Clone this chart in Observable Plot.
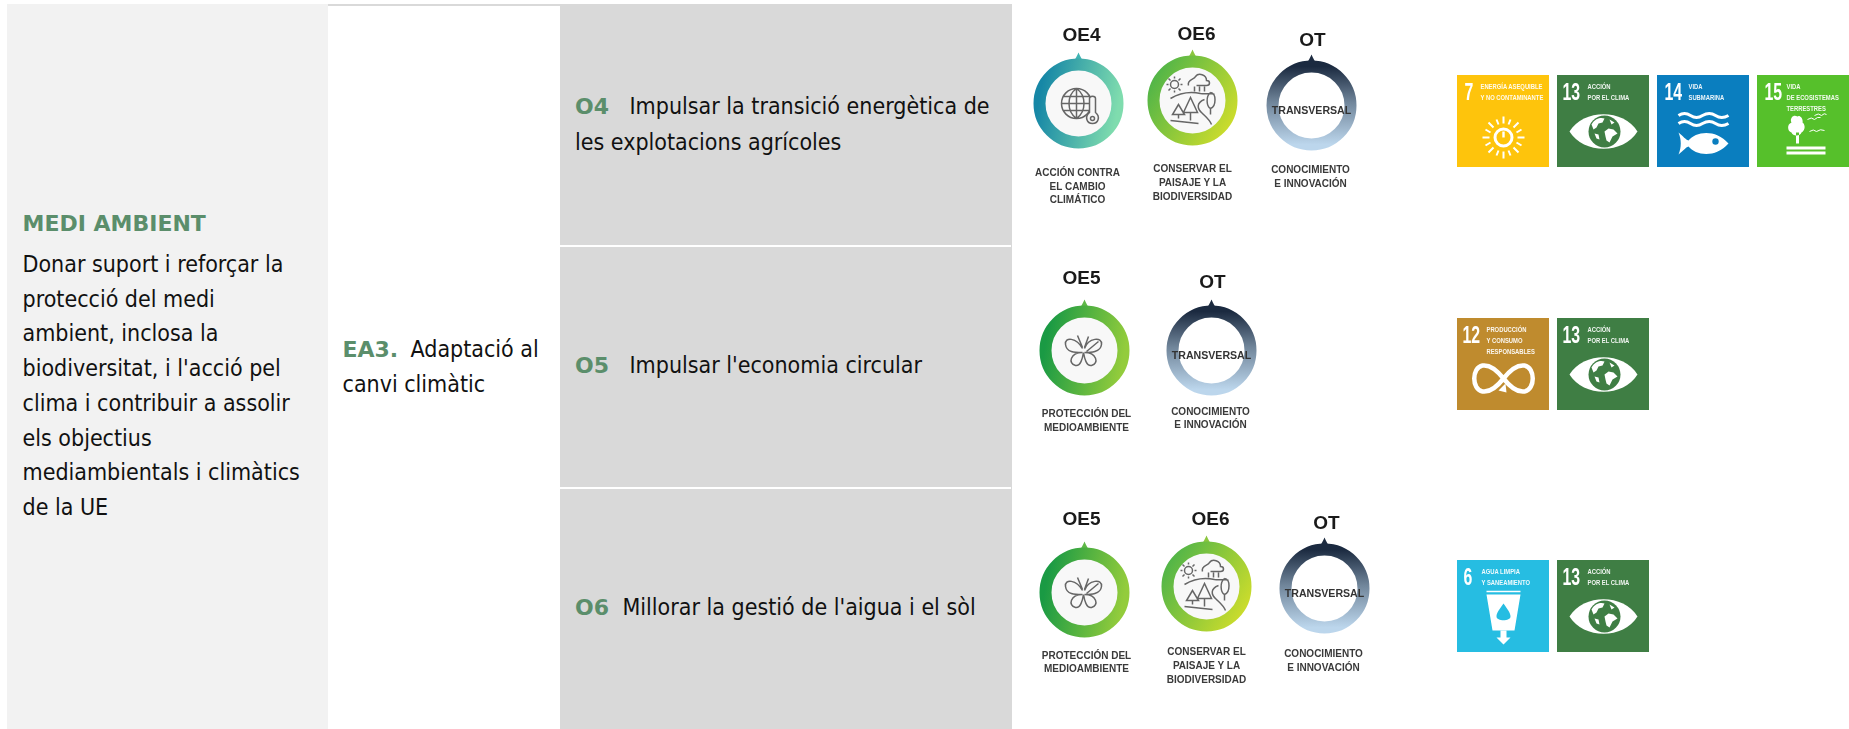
<!DOCTYPE html>
<html lang="ca"><head><meta charset="utf-8">
<style>
html,body{margin:0;padding:0;background:#fff}
svg{display:block}
.soft{filter:blur(.45px)}
.softer{filter:blur(.3px)}
</style>
<script src="https://cdn.jsdelivr.net/npm/d3@7"></script>
<script src="https://cdn.jsdelivr.net/npm/@observablehq/plot@0.6"></script>
</head><body><div id="chart"></div>
<script>
// ---------- content ----------
const sectionTitle = "MEDI AMBIENT";
const sectionLines = ["Donar suport i reforçar la","protecció del medi","ambient, inclosa la","biodiversitat, i l'acció pel","clima i contribuir a assolir","els objectius","mediambientals i climàtics","de la UE"];
const axisCode = "EA3.";
const axisLines = ["Adaptació al","canvi climàtic"];
const objectiveCodes = ["O4","O5","O6"];
const objectiveLines = [["Impulsar la transició energètica de","les explotacions agrícoles"],["Impulsar l'economia circular"],["Millorar la gestió de l'aigua i el sòl"]];
const badgeNames = {
  OE4:["ACCIÓN CONTRA","EL CAMBIO","CLIMÁTICO"],
  OE5:["PROTECCIÓN DEL","MEDIOAMBIENTE"],
  OE6:["CONSERVAR EL","PAISAJE Y LA","BIODIVERSIDAD"],
  OT:["CONOCIMIENTO","E INNOVACIÓN"]
};
const sdgNames = {
  6:["AGUA LIMPIA","Y SANEAMIENTO"],
  7:["ENERGÍA ASEQUIBLE","Y NO CONTAMINANTE"],
  12:["PRODUCCIÓN","Y CONSUMO","RESPONSABLES"],
  13:["ACCIÓN","POR EL CLIMA"],
  14:["VIDA","SUBMARINA"],
  15:["VIDA","DE ECOSISTEMAS","TERRESTRES"]
};
const sdgColors = {6:"#26bde2",7:"#fec40c",12:"#bf8b2e",13:"#3f7e44",14:"#0a7ebf",15:"#56c02b"};
const ringStroke = {OE4:"url(#gOE4)",OE5:"url(#gOE5)",OE6:"url(#gOE6)",OT:"url(#gOT)"};
const ringTip = {OE4:"#3fb4b4",OE5:"#5fb848",OE6:"#8cc63f",OT:"#1d2b40"};
const ringFill = {OE4:"#f8f8f8",OE5:"#f8f8f8",OE6:"#f8f8f8",OT:"#ffffff"};

// ---------- table layout (scale units = pixels of the page) ----------
const cells = [
  {x1:7,x2:328,y1:4,y2:729,c:"#f2f2f2"},
  {x1:328,x2:560,y1:4,y2:6,c:"#d9d9d9"},
  {x1:560,x2:1011,y1:4,y2:245,c:"#d9d9d9"},
  {x1:560,x2:1011,y1:247,y2:487,c:"#d9d9d9"},
  {x1:560,x2:1011,y1:489,y2:729,c:"#d9d9d9"}
];
const objectiveRows = [{code:106,line:[106,142],x:629},{code:365,line:[365],x:629},{code:607,line:[607],x:622}];
const badges = [
  {k:"OE4",cx:1078,cy:103,lx:1081,ly:34,nx:1077,ny:[172,186,199]},
  {k:"OE6",cx:1192,cy:100,lx:1196,ly:33,nx:1192,ny:[168,182,196]},
  {k:"OT",cx:1311,cy:105,lx:1312,ly:39,nx:1310,ny:[169,183]},
  {k:"OE5",cx:1084,cy:350,lx:1081,ly:277,nx:1086,ny:[413,427]},
  {k:"OT",cx:1211,cy:350,lx:1212,ly:281,nx:1210,ny:[411,424]},
  {k:"OE5",cx:1084,cy:592,lx:1081,ly:518,nx:1086,ny:[655,668]},
  {k:"OE6",cx:1206,cy:586,lx:1210,ly:518,nx:1206,ny:[651,665,679]},
  {k:"OT",cx:1324,cy:588,lx:1326,ly:522,nx:1323,ny:[653,667]}
];
const squares = [
  {n:7,x:1457,y:75},{n:13,x:1557,y:75},{n:14,x:1657,y:75},{n:15,x:1757,y:75},
  {n:12,x:1457,y:318},{n:13,x:1557,y:318},
  {n:6,x:1457,y:560},{n:13,x:1557,y:560}
];
const sdgTextInset = {6:24,7:23,12:29,13:30,14:31,15:29};
const sdgNumberInset = {6:6,7:7,12:5,13:5,14:7,15:7};

// ---------- pictogram symbols: path strings are drawn through Plot's dot mark ----------
function shape(d, base = 33) {
  const t = d.trim().split(/\s+/);
  return {draw(c, size) {
    const k = Math.sqrt(size / Math.PI) / base;
    let i = 0; const n = () => +t[i++] * k;
    while (i < t.length) {
      const o = t[i++];
      if (o === "M") c.moveTo(n(), n());
      else if (o === "L") c.lineTo(n(), n());
      else if (o === "C") c.bezierCurveTo(n(), n(), n(), n(), n(), n());
      else if (o === "Q") c.quadraticCurveTo(n(), n(), n(), n());
      else if (o === "Z") c.closePath();
      else if (o === "O") { const x = n(), y = n(), r = n(); c.moveTo(x + r, y); c.arc(x, y, r, 0, 2 * Math.PI); }
    }
  }};
}
const iconPaths = {
  globe:"O -2 0 15 M -17 0 L 13 0 M -15 -7 L 11 -7 M -15 7 L 11 7 M -2 -15 C -12 -8 -12 8 -2 15 M -2 -15 C 8 -8 8 8 -2 15 M -2 -15 L -2 15",
  thermo:"M 11 -5 C 11 -8 17 -8 17 -5 L 17 9 C 22 13 20 20 14 20 C 8 20 6 13 11 9 Z O 14 15 2",
  butterfly:"M -2 -2 C -8 -13 -20 -14 -19 -6 C -18 2 -10 2 -2 2 M -2 2 C -14 2 -17 13 -9 15 C -4 16 -2 8 -1 2 M 0 -2 C 4 -13 18 -14 17 -6 C 16 2 6 2 0 2 M 0 2 C 12 2 15 13 7 15 C 2 16 0 8 -1 2 M -2 -3 L -7 -15 M 0 -3 L 4 -14 M 2 1 L 14 -9",
  landscape:"O -18 -16 4 M -18 -24 L -18 -22 M -18 -10 L -18 -8 M -26 -16 L -24 -16 M -12 -16 L -10 -16 M -24 -22 L -22 -20 M -14 -12 L -12 -10 M -24 -10 L -22 -12 M -14 -20 L -12 -22 M -4 -15 C -6 -21 2 -21 3 -24 C 6 -28 14 -26 14 -20 C 18 -20 18 -15 14 -15 L 4 -15 M 2 -14 L 2 -9 M 7 -14 L 7 -9 M 12 -14 L 12 -9 M -22 -2 C -12 -8 -2 -9 8 -7 C 14 -6 18 -8 22 -6 M 18 -8 C 24 -8 24 6 18 8 C 14 6 13 -4 18 -8 M 18 8 L 18 14 M 12 -1 C 4 2 4 8 10 13 C 13 16 17 19 19 24 M -14 4 L -20 14 L -8 14 Z M -14 14 L -14 18 M -2 -3 L -9 12 L 5 12 Z M -2 12 L -2 20 M -22 20 L 6 23"
};
const sdgPaths = {
  eyeWhite:"M -34 0 C -20 -23 20 -23 34 0 C 20 23 -20 23 -34 0 Z",
  land:"M -13 -7 C -9 -14 -3 -14 0 -13 L -2 -9 L -6 -8 L -8 -4 L -11 -2 Z M 0 0 L 4 -3 L 9 -2 L 13 2 L 8 5 L 5 11 L 2 9 L 1 5 Z M 5 -12 L 10 -9 L 7 -7 Z M -10 2 L -6 3 L -5 8 L -8 7 Z",
  sunRays:"M 0 -21 L 0 -14 M 0 14 L 0 21 M -21 0 L -14 0 M 14 0 L 21 0 M -15 -15 L -10 -10 M 10 10 L 15 15 M -15 15 L -10 10 M 10 -10 L 15 -15 M -18 -8 L -13 -5 M 13 5 L 18 8 M -18 8 L -13 5 M 13 -5 L 18 -8 M -7 -18 L -5 -13 M 5 13 L 7 18 M 7 -18 L 5 -13 M -5 13 L -7 18",
  sunRing:"O 0 0 8.5",
  power:"M 0 -6 L 0 0",
  waves:"M -25 0 Q -19 -4 -13 0 Q -7 4 -1 0 Q 6 -4 12 0 Q 18 4 25 0 M -25 8 Q -19 4 -13 8 Q -7 12 -1 8 Q 6 4 12 8 Q 18 12 25 8",
  fish:"M -25 -11 C -20 -7 -18 -4 -15 -3 C -8 -12 12 -15 25 0 C 12 15 -8 12 -15 3 C -18 4 -20 7 -25 11 C -22 4 -22 -4 -25 -11 Z",
  fishEye:"O 12 -2 3.2",
  tree:"M -9 -14 C -14 -17 -17 -11 -15 -8 C -20 -6 -19 1 -15 2 C -14 6 -6 6 -5 2 C -1 0 -1 -6 -4 -8 C -3 -12 -7 -16 -9 -14 Z M -10.5 2 L -7.5 2 L -7.5 13 L -10.5 13 Z M -20 16 L 19 16 L 19 19 L -20 19 Z M -20 21 L 19 21 L 19 24 L -20 24 Z",
  birds:"M 1 -11 Q 5 -14 8 -11 Q 11 -14 14 -13 M 8 -15 Q 12 -18 15 -15 Q 18 -18 20 -16 M 3 1 Q 7 -2 10 1 Q 14 -2 18 0",
  infinity:"M 0 0 C -7 -9 -14 -14 -21 -13 C -32 -11 -32 11 -21 13 C -14 14 -7 9 0 0 C 7 -9 14 -14 21 -13 C 32 -11 32 11 21 13 C 14 14 7 9 0 0",
  arrowHead:"M -5 12 L 3 14 L 2 5 Z",
  glass:"M -17 -3 L 17 -3 L 11 33 L -11 33 Z",
  rim:"M -17 -6 L 17 -6",
  arrow:"M -3 33 L 3 33 L 3 40 L 7 40 L 0 47 L -7 40 L -3 40 Z",
  drop:"M 0 6 C 4 12 7 15 7 19 C 7 24 -7 24 -7 19 C -7 15 -4 12 0 6 Z"
};
const tip = shape("M -13 9 C -6 7 -3 2 0 -5 C 3 2 6 7 13 9 Z", 33);

// helpers
const txt = (rows, o) => Plot.text(rows, {x:"x", y:"y", text:"t", ...o});
const MAIN = "'DejaVu Sans Condensed','DejaVu Sans',sans-serif";
const VERD = "'DejaVu Sans',sans-serif";
const ARIAL = "'Liberation Sans',Arial,sans-serif";

const defs = () => {
  const grad = (id,x1,y1,x2,y2,a,b) => `<linearGradient id="${id}" x1="${x1}" y1="${y1}" x2="${x2}" y2="${y2}"><stop offset="0" stop-color="${a}"/><stop offset="1" stop-color="${b}"/></linearGradient>`;
  return d3.create("svg:defs").html(
    grad("gOE4",0,.4,1,.6,"#1687a6","#7fdcae") +
    grad("gOE5",0,.4,1,.6,"#1a9a44","#93cc3c") +
    grad("gOE6",0,.2,1,.8,"#52b548","#cbdc2c") +
    `<linearGradient id="gOT" x1="0" y1="0" x2="0" y2="1"><stop offset="0" stop-color="#1b2a40"/><stop offset=".45" stop-color="#6f8499"/><stop offset="1" stop-color="#bcd6ec"/></linearGradient>`
  ).node();
};

const marks = [defs];
// cells
marks.push(Plot.rect(cells,{x1:"x1",x2:"x2",y1:"y1",y2:"y2",fill:"c"}));
marks.push(Plot.ruleX([1011],{y1:4,y2:729,stroke:"#d9d9d9",strokeWidth:1}));

const GREEN = {textAnchor:"start",fontFamily:VERD,fontWeight:700,fontSize:22,fill:"#5b8e6b"};
const BODY = {textAnchor:"start",fontFamily:MAIN,fontSize:23,fill:"#111"};
// left column
marks.push(txt([{x:22,y:223,t:sectionTitle}],GREEN));
const sectionY = [264,299,333.5,368,403,438,472.5,507];
marks.push(txt(sectionLines.map((t,i)=>({x:22,y:sectionY[i],t})),BODY));
// axis
marks.push(txt([{x:342,y:349,t:axisCode}],GREEN));
marks.push(txt([{x:410,y:349,t:axisLines[0]},{x:342,y:384,t:axisLines[1]}],BODY));
// objectives
objectiveRows.forEach((r,i)=>{
  marks.push(txt([{x:574.5,y:r.code,t:objectiveCodes[i]}],GREEN));
  marks.push(txt(objectiveLines[i].map((t,j)=>({x:j?574.5:r.x,y:r.line[j],t})),BODY));
});

// badges
const dotAt = (b, sym, o) => Plot.dot([b],{x:b.cx,y:b.cy,symbol:sym,className:"soft",...o});
badges.forEach(b=>{
  marks.push(Plot.dot([b],{x:"cx",y:d=>d.cy-46,r:33,symbol:tip,fill:ringTip[b.k],className:"soft"}));
  marks.push(Plot.dot([b],{x:"cx",y:"cy",r:39,fill:ringFill[b.k],stroke:ringStroke[b.k],strokeWidth:12,className:"soft"}));
  const line = {r:33,fill:"none",stroke:"#666",strokeWidth:1.5};
  if(b.k==="OE4"){marks.push(dotAt(b,shape(iconPaths.globe),line),dotAt(b,shape(iconPaths.thermo),{...line,fill:"#f6f6f6"}));}
  if(b.k==="OE5"){marks.push(dotAt(b,shape(iconPaths.butterfly),line));}
  if(b.k==="OE6"){marks.push(dotAt(b,shape(iconPaths.landscape),line));}
  if(b.k==="OT"){marks.push(txt([{x:b.cx,y:b.cy+5,t:"TRANSVERSAL"}],{fontFamily:ARIAL,fontWeight:700,fontSize:10.6,fill:"#333",className:"softer"}));}
  marks.push(txt([{x:b.lx,y:b.ly,t:b.k}],{fontFamily:ARIAL,fontWeight:700,fontSize:19,fill:"#1a1a1a",className:"softer"}));
  marks.push(txt(badgeNames[b.k].map((t,i)=>({x:b.nx,y:b.ny[i],t})),{fontFamily:ARIAL,fontWeight:700,fontSize:10,fill:"#3a3a3a",className:"softer"}));
});

// SDG squares
squares.forEach(s=>{
  marks.push(Plot.rect([s],{x1:"x",x2:d=>d.x+92,y1:"y",y2:d=>d.y+92,fill:sdgColors[s.n]}));
  marks.push(txt([{x:s.x+sdgNumberInset[s.n],y:s.y+17,t:String(s.n)}],{textAnchor:"start",fontFamily:ARIAL,fontWeight:700,fontSize:24,fill:"#fff",className:"softer narrowNum"}));
  marks.push(txt(sdgNames[s.n].map((t,i)=>({x:s.x+sdgTextInset[s.n],y:s.y+11+i*11,t})),{textAnchor:"start",fontFamily:ARIAL,fontWeight:700,fontSize:6.8,fill:"#fff",fillOpacity:.92,className:"soft narrowLbl"}));
  const cx = s.x+46, W="#fff", C=sdgColors[s.n];
  const pic = (key,dx,dy,o) => marks.push(Plot.dot([s],{x:cx+dx,y:s.y+dy,r:33,symbol:shape(sdgPaths[key]),className:"softer",...o}));
  if(s.n===13){
    pic("eyeWhite",0,56,{fill:W});
    marks.push(Plot.dot([s],{x:cx+1,y:s.y+56,r:16,fill:C,className:"softer"}));
    pic("land",1,56,{fill:W});
  }
  if(s.n===7){
    pic("sunRays",0,62,{fill:"none",stroke:W,strokeWidth:2});
    pic("sunRing",0,62,{fill:"none",stroke:W,strokeWidth:3});
    pic("power",0,62,{fill:"none",stroke:W,strokeWidth:2.4});
  }
  if(s.n===14){
    pic("waves",0,40,{fill:"none",stroke:W,strokeWidth:3});
    pic("fish",0,68,{fill:W});
    pic("fishEye",0,68,{fill:C});
  }
  if(s.n===15){
    pic("tree",3,55,{fill:W});
    pic("birds",3,55,{fill:"none",stroke:W,strokeWidth:1});
  }
  if(s.n===12){
    pic("infinity",0,60,{fill:"none",stroke:W,strokeWidth:4.5});
    pic("arrowHead",0,60,{fill:W});
  }
  if(s.n===6){
    pic("glass",0,37,{fill:W});
    pic("rim",0,37,{fill:"none",stroke:W,strokeWidth:1.6});
    pic("arrow",0,37,{fill:W});
    pic("drop",0,37,{fill:C});
  }
});

const chart = Plot.plot({
  width:1849,height:729,margin:0,
  style:{background:"#fff"},
  x:{domain:[0,1849],range:[0,1849],axis:null},
  y:{domain:[0,729],range:[0,729],axis:null},
  color:{type:"identity"},
  marks
});
document.getElementById("chart").append(chart);
// the SDG tiles use a condensed lettering: narrow those labels horizontally
const condense = (sel,k) => chart.querySelectorAll(sel+" text").forEach(t=>{
  t.setAttribute("textLength",t.getComputedTextLength()*k);
  t.setAttribute("lengthAdjust","spacingAndGlyphs");
});
condense(".narrowNum",.66);
condense(".narrowLbl",.86);
</script></body></html>
